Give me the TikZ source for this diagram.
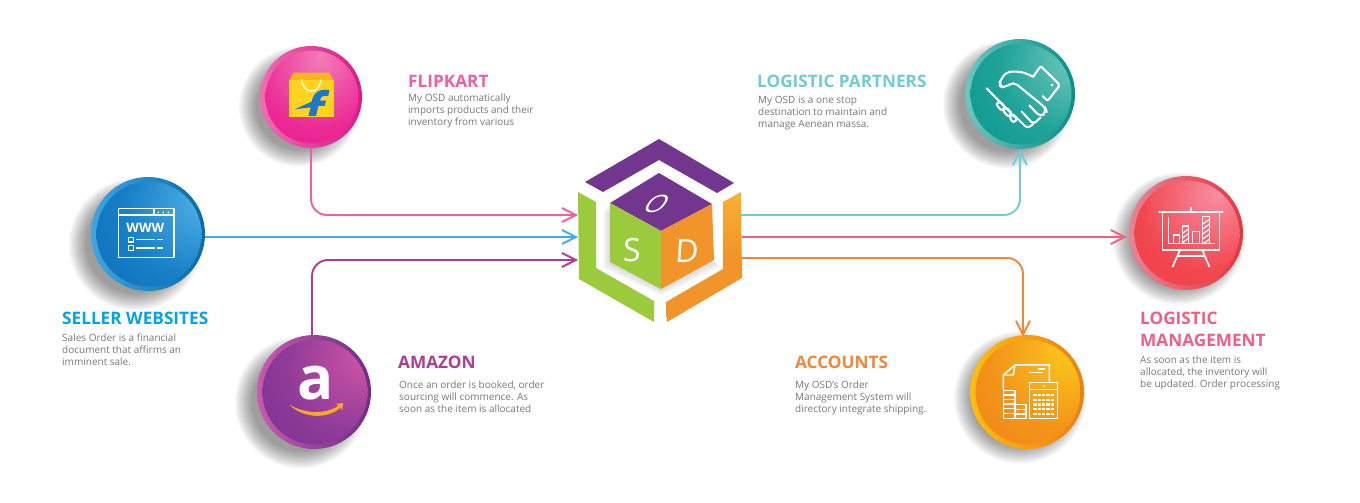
\documentclass[tikz,border=0pt]{standalone}
\usepackage{fontspec}
\setmainfont{Open Sans}
\usetikzlibrary{arrows.meta,calc}
\definecolor{cFlip}{HTML}{EE5FA4}
\definecolor{cSeller}{HTML}{00A5E6}
\definecolor{cAmz}{HTML}{B03A96}
\definecolor{cPart}{HTML}{6FCCD3}
\definecolor{cMgmt}{HTML}{F25F85}
\definecolor{cAcc}{HTML}{F58634}
\definecolor{cBody}{HTML}{77787B}
\definecolor{cBlueLn}{HTML}{3FA9F5}
\definecolor{cAmzLn}{HTML}{B23A98}
\definecolor{cube1}{HTML}{73368F}
\definecolor{cube2}{HTML}{9BCB3C}
\definecolor{cube3}{HTML}{F1942A}
\definecolor{cube3hi}{HTML}{FAB032}
\definecolor{bagY}{HTML}{FFD31F}
\definecolor{bagL}{HTML}{F5B51E}
\definecolor{flipB}{HTML}{1A78C8}
\definecolor{smile}{HTML}{F9A825}
% radial fills: hot spot, middle, edge; centre in bp relative to the disc
\newcommand{\mkshade}[6]{\definecolor{#1a}{HTML}{#2}\definecolor{#1b}{HTML}{#3}\definecolor{#1c}{HTML}{#4}%
 \pgfdeclareradialshading{#1sh}{\pgfpoint{#5bp}{#6bp}}{color(0bp)=(#1a);color(32bp)=(#1b);color(62bp)=(#1c);color(100bp)=(#1c)}}
\mkshade{flip}{F27DB8}{EC2A96}{E3118B}{5}{22}
\mkshade{sel}{55B5E8}{1880C8}{0868AE}{30}{18}
\mkshade{amz}{D056A6}{8E3A98}{6E2F8E}{25}{18}
\mkshade{par}{7CCBC2}{1FA399}{07948B}{32}{20}
\mkshade{mgm}{F78FA4}{F2474F}{EC3A42}{15}{20}
\mkshade{acc}{FBCB1C}{F3941A}{EF7D12}{22}{22}
\newcommand{\softshadow}[4]{% x y r dx
 \foreach \k in {0,...,13}{\fill[black,opacity=.032] ({#1-#4},{#2+#4*0.8}) circle[radius={#3+9-\k*1.3}];}}
\newcommand{\disc}[8]{% name x y r rimL rimR dx shade
 \softshadow{#2}{#3}{#4}{#7}
 \definecolor{#8L}{HTML}{#5}\definecolor{#8R}{HTML}{#6}
 \node[circle,inner sep=0,minimum size={2*#4},left color=#8L,right color=#8R] (#1) at (#2,#3) {};
 \shade[shading=#8sh] ($(#1.center)+(1,0)$) circle[radius={#4-4.5}];}
\tikzset{
 ttl/.style={anchor=base west,inner sep=0,font=\fontsize{17.2}{21}\selectfont\bfseries,align=left},
 bodytxt/.style={anchor=north west,inner sep=0,text=cBody,font=\fontsize{10}{12}\selectfont,align=left},
 conn/.style={line width=1.9pt,rounded corners=16pt,-{Straight Barb[length=14pt,width=14pt,line width=1.9pt]}},
 icon/.style={draw=white,line width=2.1pt,line join=round,line cap=round},
 iconthin/.style={draw=white,line width=1.4pt,line join=round},
 cubeletter/.style={text=white,inner sep=0,font=\fontsize{32}{32}\selectfont}
}
\begin{document}
\begin{tikzpicture}[x=1pt,y=-1pt]
\useasboundingbox (0,0) rectangle (1360,503);
\fill[white] (0,0) rectangle (1360,503);
% hub
\coordinate (inF) at (578,215);
\coordinate (inS) at (578,237);
\coordinate (inA) at (578,260);
\coordinate (outP) at (741,215);
\coordinate (outM) at (742,237);
\coordinate (outA) at (742,258);
% discs
\disc{flip}{311}{97}{51}{EE6DB0}{D9198A}{12}{flip}
\disc{seller}{148}{234}{57}{3FA5E0}{0A6AA8}{13}{sel}
\disc{amazon}{314}{392}{57}{C85AAE}{6E2D86}{13}{amz}
\disc{partners}{1020}{94}{55}{6CC6BE}{069087}{13}{par}
\disc{mgmt}{1186}{233}{57}{E58596}{E8343C}{7}{mgm}
\disc{accounts}{1027}{392}{57}{FDBE12}{EF7D12}{7}{acc}
% connectors
\draw[conn,cFlip] (flip.south) |- (inF);
\draw[conn,cBlueLn] (seller.east |- inS) -- (inS);
\draw[conn,cAmzLn] ([xshift=-2pt]amazon.north) |- (inA);
\draw[conn,cPart] (outP) -| (partners.south);
\draw[conn,cMgmt] (outM) -- ([xshift=-2pt]mgmt.west |- outM);
\draw[conn,cAcc] (outA) -| ([xshift=-4pt,yshift=-2pt]accounts.north);
% cube
\fill[cube1] (585,182)--(659,139)--(734,183)--(717,193)--(659,160)--(603,192)--cycle;
\fill[cube2] (578,192)--(596,202)--(596,268)--(654,301)--(654,322)--(579,279)--cycle;
\shade[top color=cube3hi,bottom color=cube3,middle color=cube3] (741,192)--(742,278)--(667,322)--(666,302)--(723,269)--(723,202)--cycle;
\foreach \k in {0,...,7}{\fill[black,opacity=.02] ({610-\k},{203+\k})--(661,{231})--({714+\k},{260+\k})--(661,{289+\k})--({610-\k},{262+\k})--cycle;}
\fill[cube1] (610,203)--(659,173)--(712,204)--(661,231)--cycle;
\fill[cube2] (610,203)--(661,231)--(661,289)--(610,262)--cycle;
\fill[cube3] (661,231)--(712,204)--(714,260)--(661,289)--cycle;
\node[cubeletter,cm={.85,0,0.5,0.75,(657,204)}] (lo) at (0,0) {O};
\node[cubeletter,cm={1,0,0.03,1,(632,250)}] (ls) at (0,0) {S};
\node[cubeletter,cm={1,0,0.07,1,(687,251)}] (ld) at (0,0) {D};
% flipkart logo
\begin{scope}[shift={(240,30)},x=.3333pt,y=-.3333pt]
 \fill[bagL] (160,128)--(268,128)--(281,152)--(148,152)--cycle;
 \fill[bagY] (148,150) rectangle (281,262);
 \draw[white,line width=1.1pt] (185,148) .. controls (188,195) and (240,195) .. (243,148);
 \fill[flipB] (268,180)--(265,198)--(250,198) .. controls (243,198) and (241,206) .. (240,212)--(258,212)--(254,228)--(235,228)--(228,258)--(205,258)--(212,232)--(165,238)--(190,226)--(215,215) .. controls (220,190) and (235,175) .. (268,180)--cycle;
\end{scope}
% seller icon
\begin{scope}[shift={(50,170)},x=.3333pt,y=-.3333pt]
 \draw[iconthin,line width=1.5pt] (205,115) rectangle (372,262);
 \draw[iconthin] (205,135)--(372,135) (312,115)--(312,135);
 \foreach \a in {325,340,355}{\fill[white] (\a,127) circle[radius=2.8];}
 \node[inner sep=0,text=white,font=\fontsize{13}{13}\selectfont\bfseries] (www) at (286,174) {WWW};
 \draw[iconthin] (235,202) rectangle (250,216) (235,227) rectangle (250,241);
 \draw[iconthin] (258,209)--(315,209) (322,209)--(338,209) (258,234)--(315,234) (322,234)--(338,234);
\end{scope}
% amazon icon
\begin{scope}[shift={(240,330)},x=.3333pt,y=-.3333pt]
 \node[inner sep=0,text=white,font=\fontsize{60}{60}\selectfont\bfseries] (amza) at (228,160) {a};
 \fill[smile] (148,224) .. controls (195,252) and (260,254) .. (296,226)--(287,222)--(309,219)--(307,242)--(302,233) .. controls (262,268) and (190,266) .. (148,224)--cycle;
\end{scope}
% handshake icon
\begin{scope}[shift={(750,30)},x=.3333pt,y=-.3333pt]
 \draw[icon,rounded corners=2pt] (850,140)--(872,108)--(930,165)--(893,213)--(878,198);
 \fill[white] (906,165) circle[radius=4];
 \draw[icon,rounded corners=5pt] (850,140)--(815,125)--(770,125)--(755,145)--(745,165)--(762,175)--(790,155)--(885,232)--(890,245)--(872,262)--(838,226);
 \draw[icon,rounded corners=3pt] (872,262)--(862,272)--(850,282)--(815,245);
 \draw[icon,rounded corners=3pt] (850,282)--(832,295)--(795,258);
 \draw[icon] (710,175)--(795,262);
 \draw[icon,rounded corners=2pt] (738,222)--(750,214)--(766,232)--(754,242)--cycle;
 \draw[icon,rounded corners=2pt] (758,240)--(770,232)--(786,250)--(774,260)--cycle;
 \draw[icon,rounded corners=2pt] (778,262)--(790,252)--(802,268)--(790,278)--cycle;
\end{scope}
% presentation icon
\begin{scope}[shift={(1120,170)},x=.3333pt,y=-.3333pt]
 \draw[icon,line width=1.7pt] (118,125)--(308,125) (213,112)--(213,125);
 \draw[iconthin,line width=1.5pt] (127,125)--(127,240)--(298,240)--(298,125);
 \draw[iconthin] (145,140)--(145,220)--(285,220);
 \draw[iconthin] (160,220)--(160,195)--(178,195)--(178,220);
 \draw[iconthin] (218,220)--(218,185)--(238,185)--(238,220);
 \draw[iconthin] (188,220)--(188,168)--(206,168)--(206,220);
 \draw[iconthin] (248,220)--(248,140)--(268,140)--(268,220);
 \foreach \v in {0,14,28}{\draw[white,line width=1.2pt] (188,{190+\v})--(206,{176+\v});}
 \foreach \v in {0,15,30,45,60}{\draw[white,line width=1.2pt] (248,{162+\v})--(268,{148+\v});}
 \draw[icon,line width=1.7pt] (180,240)--(158,290) (247,240)--(268,290) (172,258)--(255,258);
\end{scope}
% accounts icon
\begin{scope}[shift={(780,330)},x=.3333pt,y=-.3333pt]
 \draw[iconthin,line width=1.5pt] (670,180)--(670,135)--(705,105)--(808,105)--(808,155);
 \draw[iconthin] (705,105)--(700,135)--(670,135);
 \draw[iconthin] (748,128)--(790,128) (775,117)--(795,117);
 \draw[iconthin,line width=1.5pt] (748,158) rectangle (833,265);
 \draw[iconthin] (748,178)--(833,178);
 \fill[white] (792,168) circle[radius=3];
 \foreach \r in {192,206,220,234,248}{\foreach \c in {760,773,786,799,812}{\fill[white] (\c,\r) rectangle ++(10,7);}}
 \draw[iconthin,line width=1.5pt] (670,182) rectangle (705,265) (705,224) rectangle (738,265);
 \foreach \r in {195,208,222,236,250}{\draw[white,line width=1.2pt] (670,\r)--(705,\r);}
 \foreach \r in {238,252}{\draw[white,line width=1.2pt] (705,\r)--(738,\r);}
\end{scope}
% texts
\node[ttl,text=cFlip] (t1) at (408,88) {FLIPKART};
\node[bodytxt] (b1) at (408,94) {My OSD automatically\\imports products and their\\inventory from various};
\node[ttl,text=cSeller] (t2) at (62,324) {SELLER WEBSITES};
\node[bodytxt] (b2) at (62,334) {Sales Order is a financial\\document that affirms an\\imminent sale.};
\node[ttl,text=cAmz] (t3) at (398,368) {AMAZON};
\node[bodytxt] (b3) at (399,381) {Once an order is booked, order\\sourcing will commence. As\\soon as the item is allocated};
\node[ttl,text=cPart] (t4) at (757,88) {LOGISTIC PARTNERS};
\node[bodytxt] (b4) at (758,96) {My OSD is a one stop\\destination to maintain and\\manage Aenean massa.};
\node[ttl,text=cMgmt] (t5) at (1140,324) {LOGISTIC};
\node[ttl,text=cMgmt] (t5b) at (1140,346) {MANAGEMENT};
\node[bodytxt] (b5) at (1140,356) {As soon as the item is\\allocated, the inventory will\\be updated. Order processing};
\node[ttl,text=cAcc] (t6) at (795,368) {ACCOUNTS};
\node[bodytxt] (b6) at (795,381) {My OSD’s Order\\Management System will\\directory integrate shipping.};
\end{tikzpicture}
\end{document}
